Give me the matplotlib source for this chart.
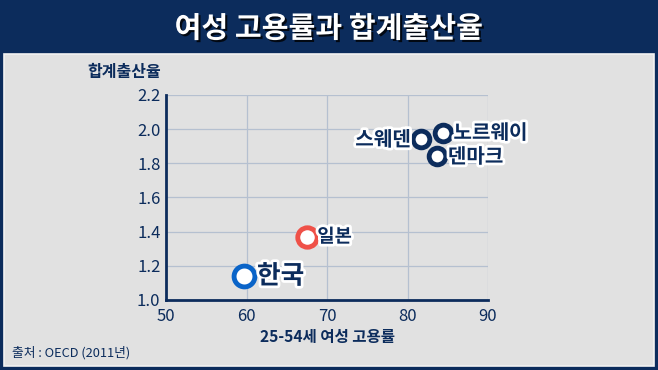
import matplotlib
matplotlib.use("Agg")
import matplotlib.pyplot as plt
import matplotlib.patheffects as pe
from matplotlib.patches import Rectangle

plt.rcParams['font.family'] = ['Noto Sans CJK KR', 'DejaVu Sans']

countries = ["한국", "일본", "스웨덴", "노르웨이", "덴마크"]
employment = [59.7, 67.5, 81.7, 84.4, 83.7]
fertility = [1.14, 1.37, 1.94, 1.98, 1.84]
edge_colors = ["#0a64c8", "#ef5148", "#0c2c5c", "#0c2c5c", "#0c2c5c"]
marker_sizes = [15, 14, 12, 12, 12]
label_sizes = [18.5, 13.5, 14.5, 14.5, 14.5]
xticks = [50, 60, 70, 80, 90]
yticks = [1.0, 1.2, 1.4, 1.6, 1.8, 2.0, 2.2]

navy = "#0c2c5c"

fig = plt.figure(figsize=(6.58, 3.70), dpi=100)
fig.patch.set_facecolor(navy)

bg = fig.add_axes([0, 0, 1, 1], zorder=-1)
bg.axis("off")
bg.set_xlim(0, 1)
bg.set_ylim(0, 1)
bg.add_patch(Rectangle((0.006, 0.01), 0.988, 0.845, facecolor="#e1e1e1", edgecolor="#f2f2f2", lw=1.2))

fig.text(0.5, 0.923, "여성 고용률과 합계출산율", color="white", fontsize=21, fontweight="black",
         ha="center", va="center",
         path_effects=[pe.withSimplePatchShadow(offset=(1.5, -1.5), shadow_rgbFace="#000000", alpha=0.8)])

ax = fig.add_axes([0.2523, 0.1892, 0.4894, 0.5541])
ax.set_facecolor("#e1e1e1")
ax.set_xlim(50, 90)
ax.set_ylim(1.0, 2.2)
ax.set_xticks(xticks)
ax.set_yticks(yticks)
ax.set_yticklabels([f"{v:.1f}" for v in yticks])
ax.tick_params(length=0, labelsize=12, labelcolor=navy)
ax.tick_params(axis="x", pad=6)
ax.tick_params(axis="y", pad=4)
ax.grid(True, color="#b5c0d0", lw=0.9)
ax.set_axisbelow(True)
for s in ["top", "right"]:
    ax.spines[s].set_visible(False)
for s in ["left", "bottom"]:
    ax.spines[s].set_color(navy)
    ax.spines[s].set_linewidth(2)

outline = [pe.withStroke(linewidth=4, foreground="white")]
for name, x, y, ec, ms, fs in zip(countries, employment, fertility, edge_colors, marker_sizes, label_sizes):
    ax.plot(x, y, "o", ms=ms, mfc="white", mec=ec, mew=3.5, zorder=5, clip_on=False)
    if name == "스웨덴":
        ax.text(x - 1.3, y, name, color=navy, fontsize=fs, fontweight="bold", ha="right", va="center",
                path_effects=outline, zorder=6)
    else:
        off = 1.6 if fs > 15 else 1.3
        ax.text(x + off, y, name, color=navy, fontsize=fs, fontweight="bold", ha="left", va="center",
                path_effects=outline, zorder=6)

fig.text(124 / 658, 1 - 72 / 370, "합계출산율", color=navy, fontsize=11.5, fontweight="bold",
         ha="center", va="center")
fig.text(328 / 658, 1 - 337 / 370, "25-54세 여성 고용률", color=navy, fontsize=11.2, fontweight="bold",
         ha="center", va="center")
fig.text(12 / 658, 1 - 353 / 370, "출처 : OECD (2011년)", color=navy, fontsize=9.2,
         ha="left", va="center")

fig.savefig("out.png", dpi=100, facecolor=fig.get_facecolor())
